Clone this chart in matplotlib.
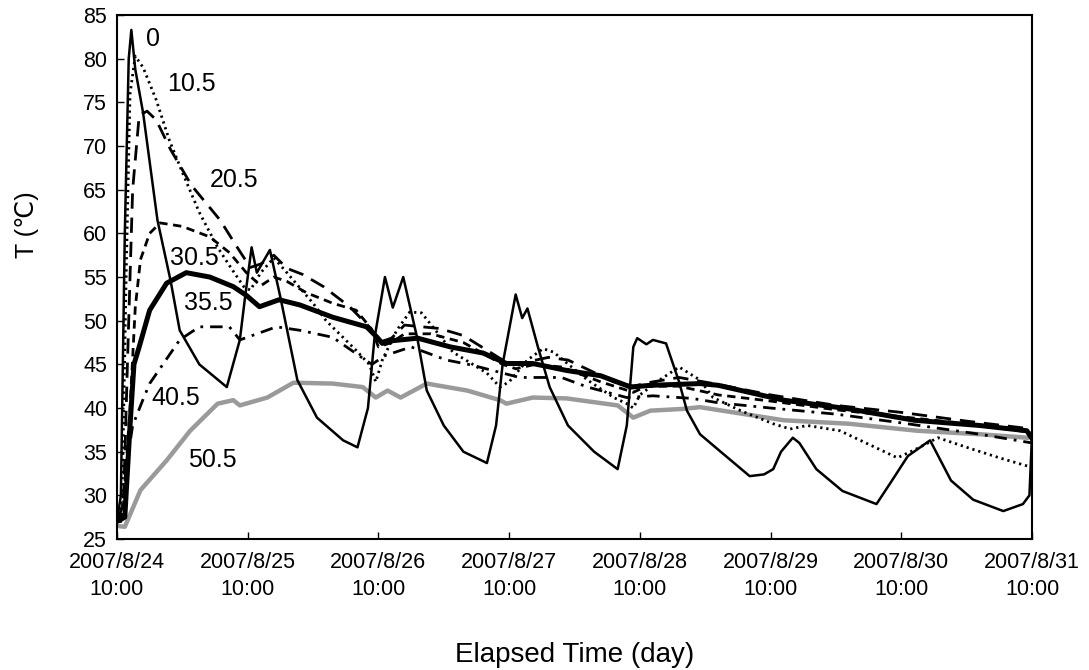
import matplotlib
matplotlib.use("Agg")
import matplotlib.pyplot as plt

plt.rcParams['font.family'] = ['Liberation Sans', 'DejaVu Sans']

# elapsed time in days from 2007/8/24 10:00, temperature in deg C
tick_days = [0, 1, 2, 3, 4, 5, 6, 7]
tick_labels = ["2007/8/24\n10:00", "2007/8/25\n10:00", "2007/8/26\n10:00", "2007/8/27\n10:00",
               "2007/8/28\n10:00", "2007/8/29\n10:00", "2007/8/30\n10:00", "2007/8/31\n10:00"]

d_00 = [0, 0.03, 0.06, 0.09, 0.11, 0.14, 0.2, 0.31, 0.41, 0.48, 0.63, 0.84, 0.94, 0.98, 1.03, 1.07,
        1.17, 1.25, 1.38, 1.53, 1.73, 1.84, 1.92, 1.97, 2.05, 2.11, 2.19, 2.3, 2.37, 2.5, 2.65, 2.83,
        2.9, 2.95, 3.05, 3.1, 3.14, 3.22, 3.31, 3.45, 3.65, 3.83, 3.9, 3.95, 3.98, 4.05, 4.1, 4.2,
        4.3, 4.36, 4.46, 4.61, 4.84, 4.95, 5.02, 5.08, 5.17, 5.22, 5.35, 5.55, 5.81, 5.92, 6.05, 6.22,
        6.3, 6.38, 6.55, 6.78, 6.93, 6.98, 7.0]
t_00 = [27, 30, 60, 80, 83.3, 78.8, 73.8, 61.5, 54.6, 48.9, 45, 42.4, 47.8, 52.7, 58.4, 55.5,
        58.1, 52.7, 43.2, 38.9, 36.3, 35.5, 40, 48, 55, 51.5, 55, 47.8, 42, 38, 35, 33.7,
        38, 45, 53, 50.3, 51.4, 47, 42.4, 38, 35, 33, 38, 47, 48, 47.3, 47.8, 47.4,
        43, 39.7, 37, 35.1, 32.2, 32.4, 33, 35, 36.6, 36, 33, 30.5, 29, 31.5, 34.5, 36.3,
        34, 31.7, 29.5, 28.2, 29, 30, 37]

d_105 = [0, 0.04, 0.07, 0.1, 0.14, 0.2, 0.3, 0.4, 0.5, 0.63, 0.77, 0.87, 0.97, 1.02, 1.1, 1.2, 1.3,
         1.5, 1.6, 1.83, 1.93, 1.98, 2.03, 2.14, 2.24, 2.33, 2.57, 2.83, 2.93, 3.0, 3.14, 3.26, 3.34,
         3.6, 3.8, 3.9, 3.95, 4.0, 4.15, 4.3, 4.46, 4.56, 4.77, 5.02, 5.15, 5.28, 5.53, 5.97, 6.1,
         6.28, 6.5, 6.75, 7.0]
t_105 = [27, 30, 55, 76, 80.3, 79, 75.3, 70.7, 67, 62.4, 58.4, 56.1, 53.9, 53.5, 55.5, 57.2, 55.5,
         52, 50, 46.6, 45, 43, 45.5, 48.9, 51, 50.9, 46.4, 44, 42.4, 43, 45.5, 46.8, 46.4,
         43.2, 41.2, 40.5, 40, 41.5, 43.2, 44.7, 43.2, 41.2, 39.7, 38.2, 37.6, 38, 37.4, 34.3, 35.2,
         36.6, 35.5, 34.3, 33.2]

d_205 = [0, 0.05, 0.08, 0.12, 0.17, 0.23, 0.3, 0.41, 0.57, 0.79, 0.92, 1.02, 1.1, 1.2, 1.3, 1.42,
         1.58, 1.78, 1.93, 2.0, 2.1, 2.2, 2.47, 2.65, 2.95, 3.05, 3.3, 3.45, 3.8, 3.95, 4.1, 4.3,
         4.6, 5.0, 5.5, 6.0, 6.5, 7.0]
t_205 = [27, 29, 45, 65, 73.5, 74, 73, 69.6, 65.5, 61.5, 58.4, 56.1, 56.5, 57.5, 56, 55.3,
         53.9, 51.6, 49.3, 47.5, 48, 49.5, 49.1, 48.3, 45.5, 45, 45.8, 45.5, 43, 42.5, 43, 43.5,
         42.7, 41.5, 40.3, 39.5, 38.5, 37.6]

d_305 = [0, 0.05, 0.1, 0.14, 0.18, 0.25, 0.33, 0.5, 0.71, 0.86, 0.99, 1.1, 1.2, 1.3, 1.45, 1.65,
         1.83, 1.95, 2.0, 2.1, 2.2, 2.4, 2.65, 2.95, 3.05, 3.2, 3.4, 3.7, 3.95, 4.05, 4.3, 4.6,
         5.0, 5.5, 6.0, 6.5, 7.0]
t_305 = [27, 29, 40, 51.5, 57, 60, 61.2, 60.8, 59.6, 57.8, 55.5, 54, 55, 54.5, 53.2, 52,
         51.2, 49, 47, 47.5, 48.5, 48.5, 47.5, 45, 44.5, 45, 44.7, 43, 41.8, 42.5, 42.5, 41.5,
         40.8, 39.8, 39, 38.2, 37.2]

d_355 = [0, 0.06, 0.1, 0.13, 0.17, 0.25, 0.38, 0.53, 0.71, 0.89, 0.99, 1.09, 1.24, 1.4, 1.65, 1.91,
         1.99, 2.03, 2.1, 2.3, 2.55, 2.8, 2.98, 3.18, 3.44, 3.7, 3.93, 4.08, 4.46, 4.6, 5.1, 5.6,
         6.1, 6.6, 6.96, 7.0]
t_355 = [27, 27.5, 38, 45, 47, 51.2, 54.3, 55.5, 55, 53.9, 52.9, 51.6, 52.4, 51.8, 50.4, 49.3,
         48.1, 47.4, 47.7, 48, 47, 46.3, 45.1, 45.1, 44.3, 43.7, 42.4, 42.6, 42.8, 42.6, 40.9, 39.9,
         38.6, 38, 37.4, 36.5]

d_405 = [0, 0.03, 0.07, 0.12, 0.2, 0.25, 0.48, 0.63, 0.86, 0.94, 1.09, 1.22, 1.4, 1.65, 1.9, 1.95,
         2.05, 2.25, 2.52, 2.72, 3.08, 3.4, 3.6, 3.9, 4.1, 4.4, 4.6, 5.0, 5.5, 6.0, 6.6, 7.0]
t_405 = [27, 27, 33, 38, 41, 42.8, 47.8, 49.3, 49.3, 47.8, 48.6, 49.3, 48.9, 48.1, 45.5, 45,
         46, 47, 45.5, 44.9, 43.5, 43.5, 42.4, 41.2, 41.4, 41.1, 40.6, 40, 39.3, 38.3, 37, 36]

d_505 = [0, 0.06, 0.18, 0.38, 0.56, 0.77, 0.89, 0.94, 1.15, 1.35, 1.65, 1.88, 1.98, 2.07, 2.17, 2.37,
         2.68, 2.93, 2.98, 3.18, 3.44, 3.83, 3.95, 4.08, 4.33, 4.46, 5.1, 5.6, 6.12, 6.6, 6.96]
t_505 = [26.5, 26.4, 30.6, 34, 37.4, 40.5, 40.9, 40.3, 41.2, 42.9, 42.8, 42.4, 41.2, 42, 41.2, 42.8,
         42, 40.9, 40.5, 41.2, 41.1, 40.3, 38.9, 39.7, 39.9, 40.1, 38.6, 38.2, 37.4, 37, 36.6]

fig = plt.figure(figsize=(10.89, 6.70), dpi=100)
ax = fig.add_axes([0.1074, 0.1955, 0.8403, 0.782])

ax.plot(d_505, t_505, color="#9a9a9a", lw=3.2)
ax.plot(d_405, t_405, color="black", lw=2, linestyle=(0, (4.5, 2.5, 1, 2.5)))
ax.plot(d_305, t_305, color="black", lw=2, linestyle=(0, (3, 2)))
ax.plot(d_205, t_205, color="black", lw=2, linestyle=(0, (5.5, 3.2)))
ax.plot(d_105, t_105, color="black", lw=2, linestyle=(0, (0.8, 1.4)))
ax.plot(d_355, t_355, color="black", lw=3.6)
ax.plot(d_00, t_00, color="black", lw=1.8)

# series labels (depth)
ax.text(0.275, 82.3, "0", fontsize=18, ha="center", va="center")
ax.text(0.57, 77.1, "10.5", fontsize=18, ha="center", va="center")
ax.text(0.895, 66.1, "20.5", fontsize=18, ha="center", va="center")
ax.text(0.59, 57.2, "30.5", fontsize=18, ha="center", va="center")
ax.text(0.70, 52.0, "35.5", fontsize=18, ha="center", va="center")
ax.text(0.45, 41.2, "40.5", fontsize=18, ha="center", va="center")
ax.text(0.73, 34.0, "50.5", fontsize=18, ha="center", va="center")

ax.set_xlim(0, 7)
ax.set_ylim(25, 85)
ax.set_yticks(range(25, 86, 5))
ax.set_xticks(tick_days)
ax.set_xticklabels(tick_labels, linespacing=1.4)
ax.tick_params(direction="in", length=5, width=1)
ax.tick_params(axis="x", pad=9, labelsize=15.5)
ax.tick_params(axis="y", pad=7, labelsize=15.5)
for s in ax.spines.values():
    s.set_linewidth(1.5)

ax.set_xlabel("Elapsed Time (day)", fontsize=20, labelpad=30)
ax.set_ylabel("T (℃)", fontsize=18)
ax.yaxis.set_label_coords(-0.085, 0.6)

fig.savefig("out.png", dpi=100)
